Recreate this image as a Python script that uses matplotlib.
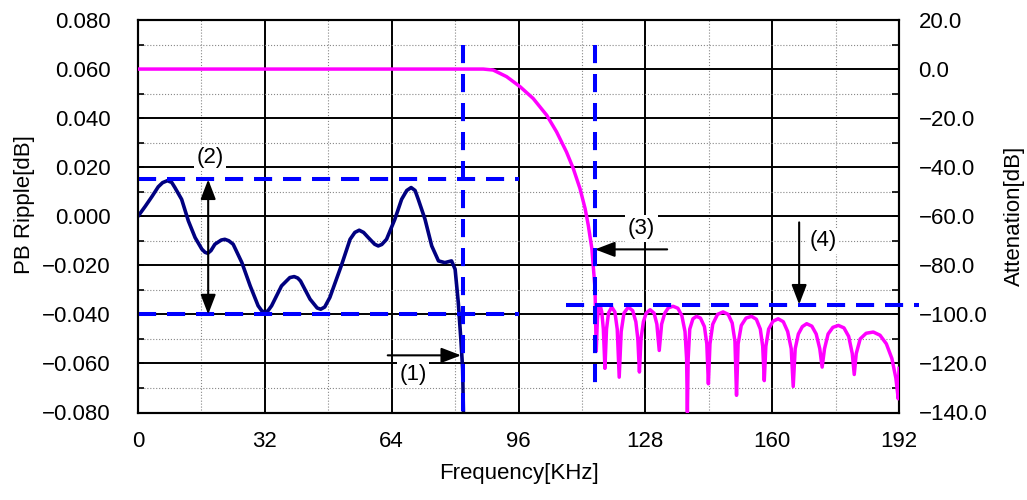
import matplotlib
matplotlib.use("Agg")
import matplotlib.pyplot as plt
from matplotlib.ticker import MultipleLocator, FuncFormatter

plt.rcParams["font.family"] = ["Liberation Sans", "DejaVu Sans"]
plt.rcParams["font.size"] = 16

# pass-band ripple [dB] vs frequency [kHz]
ripple_freq = [0.0, 1.8, 3.5, 5.1, 6.2, 7.4, 8.5, 9.3, 11.0, 12.7, 14.4,
               16.1, 16.9, 17.6, 18.4, 19.4, 21.0, 21.9, 22.9, 24.0, 26.2,
               28.3, 30.3, 31.2, 32.0, 32.8, 33.7, 36.2, 38.3, 39.4, 40.3,
               41.0, 43.4, 45.2, 46.1, 47.1, 48.4, 51.4, 53.5, 54.7, 55.8,
               56.9, 58.1, 59.7, 60.6, 61.5, 62.7, 64.8, 66.5, 67.8, 68.9,
               69.9, 70.7, 72.4, 74.1, 75.8, 77.4, 79.1, 80.0, 80.8, 81.5,
               81.9, 82.1]
ripple_db = [0.000, 0.004, 0.008, 0.012, 0.0137, 0.0145, 0.0138, 0.0117,
             0.0069, -0.0019, -0.0087, -0.0134, -0.0147, -0.0151, -0.0140,
             -0.0114, -0.0097, -0.0094, -0.0100, -0.0114, -0.0189, -0.0284,
             -0.0365, -0.0385, -0.0392, -0.0385, -0.0365, -0.0284, -0.0250,
             -0.0246, -0.0252, -0.0264, -0.0338, -0.0374, -0.0379, -0.0370,
             -0.0331, -0.0196, -0.0094, -0.0066, -0.0057, -0.0066, -0.0087,
             -0.0114, -0.0121, -0.0115, -0.0094, -0.0012, 0.0069, 0.0105,
             0.0117, 0.0105, 0.0069, -0.0012, -0.0121, -0.0182, -0.0189,
             -0.0182, -0.0216, -0.0352, -0.0514, -0.0623, -0.080]

# overall attenuation [dB] vs frequency [kHz]
atten_freq = [0.0, 87.1, 89.6, 93.0, 96.4, 99.7, 103.1, 105.6, 108.1, 109.8,
              111.5, 112.8, 113.6, 114.5, 114.9, 115.3, 115.6,
              115.9, 116.2, 116.6, 117.0, 117.4, 117.8, 118.2, 118.7, 119.5,
              120.3, 120.9, 121.4, 121.9, 122.6, 123.7, 124.8, 125.6, 126.1,
              126.5, 126.9, 127.5, 128.2, 129.2, 130.2, 130.9, 131.5, 132.1,
              132.9, 133.8, 135.0, 136.2, 137.2, 138.0, 138.4, 138.6, 138.8,
              139.2, 140.0, 140.9, 141.9, 142.9, 143.5, 143.9, 144.3, 145.0,
              146.2, 147.6, 148.9, 149.9, 150.6, 151.0, 151.4, 152.2, 153.4,
              154.8, 156.0, 157.0, 157.6, 158.0, 158.4, 159.1, 160.2, 161.5,
              162.8, 163.9, 164.8, 165.3, 165.8, 166.6, 167.6, 168.7, 170.0,
              171.1, 172.0, 172.6, 173.2, 174.1, 175.3, 176.7, 178.1, 179.3,
              180.2, 180.7, 181.2, 182.2, 183.7, 185.5, 187.2, 188.8, 190.2,
              191.2, 191.8, 192.0]
atten_db = [0.0, 0.0, -0.4, -3.1, -7.2, -12.0, -18.8, -25.6, -33.8, -40.5,
            -48.7, -56.9, -63.7, -73.2, -81.3, -89.5, -115.0,
            -102.0, -97.5, -96.3, -99.0, -106.0, -122.0, -106.0, -99.5, -97.0,
            -99.0, -106.0, -125.6, -107.0, -99.5, -97.0, -98.5, -103.0, -110.0,
            -123.5, -110.0, -103.0, -99.5, -98.1, -99.5, -104.0, -114.7, -104.0,
            -99.5, -97.3, -96.7, -97.5, -100.5, -107.0, -118.0, -139.9, -118.0,
            -106.0, -101.8, -100.8, -101.5, -105.0, -112.0, -128.3, -112.0, -104.0,
            -100.0, -99.0, -100.0, -103.5, -111.0, -133.0, -112.0, -104.5, -101.5,
            -100.8, -102.0, -106.0, -113.0, -127.0, -113.0, -106.0, -102.8, -101.8,
            -103.0, -107.0, -114.0, -129.4, -114.0, -108.0, -105.0, -103.8, -104.8,
            -108.0, -114.0, -121.5, -114.0, -108.0, -105.3, -104.5, -105.5, -109.0,
            -116.0, -124.5, -116.0, -110.0, -107.7, -107.2, -108.5, -112.0, -118.0,
            -126.0, -134.4, -122.0]

# spec limits: pass-band edge, ripple bounds, stop-band edge and floor
pb_edge = 82.0
ripple_max, ripple_min = 0.015, -0.040
ripple_span = (0.0, 96.0)
sb_edge = 115.3
sb_floor = -96.0
sb_span = (108.0, 197.0)

BLUE = "#0000ff"
NAVY = "#000080"
MAGENTA = "#ff00ff"


def fmt(decimals):
    def _f(x, pos):
        x = round(x, decimals) + 0.0
        return f"{x:.{decimals}f}".replace("-", "\u2212")
    return FuncFormatter(_f)


fig = plt.figure(figsize=(10.27, 5.0), dpi=100)
fig.subplots_adjust(left=0.1344, right=0.8754, bottom=0.175, top=0.96)
ax = fig.add_subplot(111)
ax2 = ax.twinx()

ax.set_xlim(0, 192)
ax.set_ylim(-0.080, 0.080)
ax2.set_ylim(-140, 20)

ax.xaxis.set_major_locator(MultipleLocator(32))
ax.xaxis.set_minor_locator(MultipleLocator(16))
ax.yaxis.set_major_locator(MultipleLocator(0.02))
ax.yaxis.set_minor_locator(MultipleLocator(0.01))
ax2.yaxis.set_major_locator(MultipleLocator(20))
ax2.yaxis.set_minor_locator(MultipleLocator(10))
ax.yaxis.set_major_formatter(fmt(3))
ax2.yaxis.set_major_formatter(fmt(1))

ax.grid(True, which="major", color="black", lw=1.4)
ax.grid(True, which="minor", color="#888888", lw=0.8, ls=":")
ax.set_axisbelow(True)

ax.tick_params(axis="x", which="both", length=0, pad=13)
ax.tick_params(axis="y", which="both", direction="in", length=4, width=1.2, pad=20)
ax2.tick_params(axis="y", which="both", direction="in", length=5, width=1.2, pad=14)
for a in (ax, ax2):
    for s in a.spines.values():
        s.set_linewidth(1.5)

ax.set_xlabel("Frequency[KHz]", labelpad=8)
ax.set_ylabel("PB Ripple[dB]")
ax.yaxis.set_label_coords(-0.135, 0.53)
ax2.set_ylabel("Attenation[dB]", labelpad=12)

dash = dict(color=BLUE, lw=2.9, dashes=(4.5, 2.7), solid_capstyle="butt")

# ripple curve and its limits (left axis)
ax.plot(ripple_freq, ripple_db, color=NAVY, lw=2.6, zorder=3)
ax.plot(ripple_span, [ripple_max, ripple_max], zorder=4, **dash)
ax.plot(ripple_span, [ripple_min, ripple_min], zorder=4, **dash)
ax.plot([pb_edge, pb_edge], [0.070, -0.080], zorder=4, **dash)

# attenuation curve and stop-band limits (right axis)
ax2.plot(atten_freq, atten_db, color=MAGENTA, lw=2.5, zorder=3)
ax2.plot([sb_edge, sb_edge], [10, -132], zorder=4, **dash)
ax2.plot(sb_span, [sb_floor, sb_floor], zorder=4, clip_on=False, **dash)

arrow = dict(arrowstyle="-|>,head_length=0.6,head_width=0.23",
             mutation_scale=20, color="black", lw=1.5, shrinkA=0, shrinkB=0)
box = dict(facecolor="white", edgecolor="none", pad=2)

# (1) pass-band edge
ax.annotate("", xy=(pb_edge - 0.5, -0.0567), xytext=(63, -0.0567),
            arrowprops=arrow, zorder=6)
ax.text(69.4, -0.0645, "(1)", ha="center", va="center", bbox=box, zorder=5)

# (2) ripple window
ax.annotate("", xy=(17.7, ripple_max), xytext=(17.7, ripple_min),
            arrowprops=dict(arrow, arrowstyle="<|-|>,head_length=0.6,head_width=0.23"),
            zorder=6)
ax.text(18.2, 0.0238, "(2)", ha="center", va="center", bbox=box, zorder=5)

# (3) stop-band edge
ax2.annotate("", xy=(sb_edge, -73.5), xytext=(133.5, -73.5),
             arrowprops=arrow, zorder=6)
ax2.text(127.0, -65.0, "(3)", ha="center", va="center", bbox=box, zorder=5)

# (4) stop-band floor
ax2.annotate("", xy=(166.8, sb_floor), xytext=(166.8, -62.5),
             arrowprops=arrow, zorder=6)
ax2.text(172.8, -70.0, "(4)", ha="center", va="center", bbox=box, zorder=5)

fig.savefig("out.png", dpi=100)
